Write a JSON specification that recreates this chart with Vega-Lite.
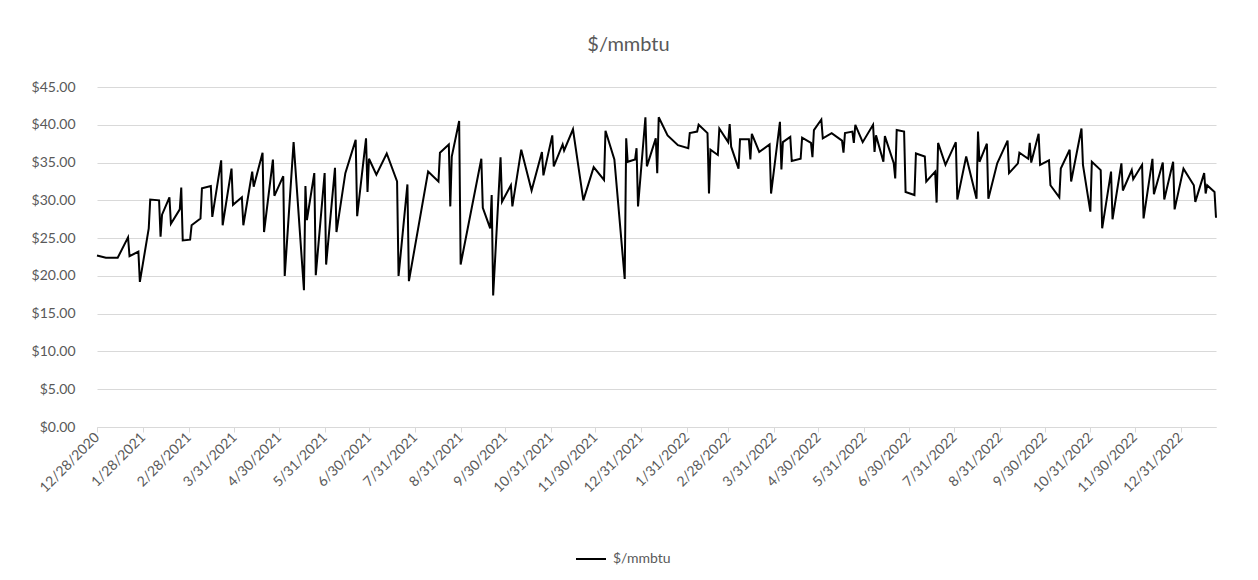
{
  "$schema": "https://vega.github.io/schema/vega-lite/v6.json",
  "autosize": {"type": "none"},
  "padding": {"left": 97, "top": 87, "right": 42, "bottom": 153},
  "width": 1119,
  "height": 340,
  "background": "white",
  "config": {"view": {"stroke": null}, "font": "Lato"},
  "title": {"text": "$/mmbtu", "fontSize": 20, "font": "Lato", "fontWeight": "normal", "color": "#595959", "anchor": "middle", "dx": -28, "offset": 25},
  "data": {"values": [
    {"date": "2020-12-28", "price": 22.7}, {"date": "2021-01-03", "price": 22.4}, {"date": "2021-01-11", "price": 22.4},
    {"date": "2021-01-18", "price": 25.1}, {"date": "2021-01-19", "price": 22.6}, {"date": "2021-01-25", "price": 23.2},
    {"date": "2021-01-26", "price": 19.2}, {"date": "2021-02-01", "price": 26.3}, {"date": "2021-02-02", "price": 30.1},
    {"date": "2021-02-08", "price": 30.0}, {"date": "2021-02-09", "price": 25.2}, {"date": "2021-02-10", "price": 28.1},
    {"date": "2021-02-15", "price": 30.4}, {"date": "2021-02-16", "price": 26.9}, {"date": "2021-02-22", "price": 28.8},
    {"date": "2021-02-23", "price": 31.7}, {"date": "2021-02-24", "price": 24.7}, {"date": "2021-03-01", "price": 24.8},
    {"date": "2021-03-02", "price": 26.7}, {"date": "2021-03-08", "price": 27.6}, {"date": "2021-03-09", "price": 31.6},
    {"date": "2021-03-15", "price": 31.9}, {"date": "2021-03-16", "price": 27.8}, {"date": "2021-03-22", "price": 35.3},
    {"date": "2021-03-23", "price": 26.7}, {"date": "2021-03-29", "price": 34.2}, {"date": "2021-03-30", "price": 29.4},
    {"date": "2021-04-05", "price": 30.4}, {"date": "2021-04-06", "price": 26.7}, {"date": "2021-04-12", "price": 33.8},
    {"date": "2021-04-13", "price": 31.8}, {"date": "2021-04-19", "price": 36.3}, {"date": "2021-04-20", "price": 25.8},
    {"date": "2021-04-26", "price": 35.4}, {"date": "2021-04-27", "price": 30.6}, {"date": "2021-05-03", "price": 33.2},
    {"date": "2021-05-04", "price": 20.0}, {"date": "2021-05-10", "price": 37.7}, {"date": "2021-05-17", "price": 18.1},
    {"date": "2021-05-18", "price": 31.9}, {"date": "2021-05-19", "price": 27.4}, {"date": "2021-05-24", "price": 33.6},
    {"date": "2021-05-25", "price": 20.1}, {"date": "2021-05-31", "price": 33.6}, {"date": "2021-06-01", "price": 21.5},
    {"date": "2021-06-07", "price": 34.3}, {"date": "2021-06-08", "price": 25.8}, {"date": "2021-06-14", "price": 33.6},
    {"date": "2021-06-21", "price": 38.0}, {"date": "2021-06-22", "price": 27.9}, {"date": "2021-06-28", "price": 38.2},
    {"date": "2021-06-29", "price": 31.1}, {"date": "2021-06-30", "price": 35.5}, {"date": "2021-07-05", "price": 33.4},
    {"date": "2021-07-12", "price": 36.2}, {"date": "2021-07-19", "price": 32.5}, {"date": "2021-07-20", "price": 20.0},
    {"date": "2021-07-26", "price": 32.1}, {"date": "2021-07-27", "price": 19.3}, {"date": "2021-08-09", "price": 33.8},
    {"date": "2021-08-16", "price": 32.5}, {"date": "2021-08-17", "price": 36.3}, {"date": "2021-08-23", "price": 37.4},
    {"date": "2021-08-24", "price": 29.2}, {"date": "2021-08-25", "price": 35.8}, {"date": "2021-08-30", "price": 40.5},
    {"date": "2021-08-31", "price": 21.5}, {"date": "2021-09-14", "price": 35.5}, {"date": "2021-09-15", "price": 29.0},
    {"date": "2021-09-20", "price": 26.3}, {"date": "2021-09-21", "price": 30.7}, {"date": "2021-09-22", "price": 17.4},
    {"date": "2021-09-27", "price": 35.7}, {"date": "2021-09-28", "price": 29.8}, {"date": "2021-10-04", "price": 32.0},
    {"date": "2021-10-05", "price": 29.2}, {"date": "2021-10-11", "price": 36.7}, {"date": "2021-10-18", "price": 31.3},
    {"date": "2021-10-25", "price": 36.4}, {"date": "2021-10-26", "price": 33.3}, {"date": "2021-11-01", "price": 38.6},
    {"date": "2021-11-02", "price": 34.5}, {"date": "2021-11-08", "price": 37.4}, {"date": "2021-11-09", "price": 36.6},
    {"date": "2021-11-15", "price": 39.4}, {"date": "2021-11-22", "price": 30.0}, {"date": "2021-11-29", "price": 34.4},
    {"date": "2021-12-06", "price": 32.7}, {"date": "2021-12-07", "price": 39.2}, {"date": "2021-12-13", "price": 35.4},
    {"date": "2021-12-20", "price": 19.6}, {"date": "2021-12-21", "price": 38.2}, {"date": "2021-12-22", "price": 35.1},
    {"date": "2021-12-27", "price": 35.4}, {"date": "2021-12-28", "price": 36.9}, {"date": "2021-12-29", "price": 29.2},
    {"date": "2022-01-03", "price": 41.0}, {"date": "2022-01-04", "price": 34.5}, {"date": "2022-01-10", "price": 38.2},
    {"date": "2022-01-11", "price": 33.6}, {"date": "2022-01-12", "price": 41.0}, {"date": "2022-01-18", "price": 38.6},
    {"date": "2022-01-25", "price": 37.3}, {"date": "2022-02-01", "price": 36.9}, {"date": "2022-02-02", "price": 38.9},
    {"date": "2022-02-07", "price": 39.1}, {"date": "2022-02-08", "price": 40.0}, {"date": "2022-02-14", "price": 38.9},
    {"date": "2022-02-15", "price": 30.9}, {"date": "2022-02-16", "price": 36.7}, {"date": "2022-02-21", "price": 36.0},
    {"date": "2022-02-22", "price": 39.5}, {"date": "2022-02-28", "price": 37.7}, {"date": "2022-03-01", "price": 40.1},
    {"date": "2022-03-02", "price": 37.1}, {"date": "2022-03-07", "price": 34.2}, {"date": "2022-03-08", "price": 38.1},
    {"date": "2022-03-14", "price": 38.1}, {"date": "2022-03-15", "price": 35.4}, {"date": "2022-03-16", "price": 38.8},
    {"date": "2022-03-21", "price": 36.4}, {"date": "2022-03-28", "price": 37.4}, {"date": "2022-03-29", "price": 30.9},
    {"date": "2022-04-04", "price": 40.4}, {"date": "2022-04-05", "price": 34.1}, {"date": "2022-04-06", "price": 37.7},
    {"date": "2022-04-11", "price": 38.4}, {"date": "2022-04-12", "price": 35.2}, {"date": "2022-04-18", "price": 35.5},
    {"date": "2022-04-19", "price": 38.3}, {"date": "2022-04-25", "price": 37.6}, {"date": "2022-04-26", "price": 35.7},
    {"date": "2022-04-27", "price": 39.3}, {"date": "2022-05-02", "price": 40.7}, {"date": "2022-05-03", "price": 38.2},
    {"date": "2022-05-09", "price": 38.9}, {"date": "2022-05-16", "price": 37.9}, {"date": "2022-05-17", "price": 36.3},
    {"date": "2022-05-18", "price": 38.9}, {"date": "2022-05-23", "price": 39.1}, {"date": "2022-05-24", "price": 37.6},
    {"date": "2022-05-25", "price": 40.0}, {"date": "2022-05-30", "price": 37.7}, {"date": "2022-06-06", "price": 40.0},
    {"date": "2022-06-07", "price": 36.4}, {"date": "2022-06-08", "price": 38.6}, {"date": "2022-06-13", "price": 35.1},
    {"date": "2022-06-14", "price": 38.5}, {"date": "2022-06-20", "price": 34.9}, {"date": "2022-06-21", "price": 32.9},
    {"date": "2022-06-22", "price": 39.3}, {"date": "2022-06-27", "price": 39.1}, {"date": "2022-06-28", "price": 31.1},
    {"date": "2022-07-04", "price": 30.7}, {"date": "2022-07-05", "price": 36.2}, {"date": "2022-07-11", "price": 35.8},
    {"date": "2022-07-12", "price": 32.5}, {"date": "2022-07-18", "price": 33.8}, {"date": "2022-07-19", "price": 29.7},
    {"date": "2022-07-20", "price": 37.6}, {"date": "2022-07-25", "price": 34.7}, {"date": "2022-08-01", "price": 37.7},
    {"date": "2022-08-02", "price": 30.1}, {"date": "2022-08-08", "price": 35.8}, {"date": "2022-08-15", "price": 30.2},
    {"date": "2022-08-16", "price": 39.1}, {"date": "2022-08-17", "price": 35.1}, {"date": "2022-08-22", "price": 37.5},
    {"date": "2022-08-23", "price": 30.2}, {"date": "2022-08-29", "price": 34.9}, {"date": "2022-09-05", "price": 37.9},
    {"date": "2022-09-06", "price": 33.6}, {"date": "2022-09-12", "price": 34.9}, {"date": "2022-09-13", "price": 36.3},
    {"date": "2022-09-19", "price": 35.5}, {"date": "2022-09-20", "price": 37.6}, {"date": "2022-09-21", "price": 35.0},
    {"date": "2022-09-26", "price": 38.8}, {"date": "2022-09-27", "price": 34.7}, {"date": "2022-10-03", "price": 35.3},
    {"date": "2022-10-04", "price": 32.0}, {"date": "2022-10-10", "price": 30.4}, {"date": "2022-10-11", "price": 34.2},
    {"date": "2022-10-17", "price": 36.7}, {"date": "2022-10-18", "price": 32.5}, {"date": "2022-10-25", "price": 39.5},
    {"date": "2022-10-26", "price": 34.7}, {"date": "2022-10-31", "price": 28.5}, {"date": "2022-11-01", "price": 35.1},
    {"date": "2022-11-07", "price": 34.0}, {"date": "2022-11-08", "price": 26.3}, {"date": "2022-11-14", "price": 33.8},
    {"date": "2022-11-15", "price": 27.5}, {"date": "2022-11-21", "price": 34.9}, {"date": "2022-11-22", "price": 31.3},
    {"date": "2022-11-28", "price": 34.0}, {"date": "2022-11-29", "price": 32.8}, {"date": "2022-12-05", "price": 34.7},
    {"date": "2022-12-06", "price": 27.6}, {"date": "2022-12-12", "price": 35.5}, {"date": "2022-12-13", "price": 30.8},
    {"date": "2022-12-19", "price": 35.0}, {"date": "2022-12-20", "price": 30.1}, {"date": "2022-12-26", "price": 35.1},
    {"date": "2022-12-27", "price": 28.8}, {"date": "2023-01-02", "price": 34.2}, {"date": "2023-01-09", "price": 32.0},
    {"date": "2023-01-10", "price": 29.8}, {"date": "2023-01-16", "price": 33.6}, {"date": "2023-01-17", "price": 30.9},
    {"date": "2023-01-18", "price": 32.0}, {"date": "2023-01-23", "price": 31.1}, {"date": "2023-01-24", "price": 27.7}
  ]},
  "mark": {"type": "line", "strokeWidth": 2, "clip": false},
  "encoding": {
    "x": {
      "field": "date", "type": "temporal", "title": null,
      "scale": {"type": "utc", "domain": [{"year": 2020, "month": 12, "date": 28, "utc": true}, {"year": 2023, "month": 1, "date": 24, "utc": true}], "nice": false},
      "axis": {
        "values": [
          {"year": 2020, "month": 12, "date": 28, "utc": true},
          {"year": 2021, "month": 1, "date": 28, "utc": true},
          {"year": 2021, "month": 2, "date": 28, "utc": true},
          {"year": 2021, "month": 3, "date": 31, "utc": true},
          {"year": 2021, "month": 4, "date": 30, "utc": true},
          {"year": 2021, "month": 5, "date": 31, "utc": true},
          {"year": 2021, "month": 6, "date": 30, "utc": true},
          {"year": 2021, "month": 7, "date": 31, "utc": true},
          {"year": 2021, "month": 8, "date": 31, "utc": true},
          {"year": 2021, "month": 9, "date": 30, "utc": true},
          {"year": 2021, "month": 10, "date": 31, "utc": true},
          {"year": 2021, "month": 11, "date": 30, "utc": true},
          {"year": 2021, "month": 12, "date": 31, "utc": true},
          {"year": 2022, "month": 1, "date": 31, "utc": true},
          {"year": 2022, "month": 2, "date": 28, "utc": true},
          {"year": 2022, "month": 3, "date": 31, "utc": true},
          {"year": 2022, "month": 4, "date": 30, "utc": true},
          {"year": 2022, "month": 5, "date": 31, "utc": true},
          {"year": 2022, "month": 6, "date": 30, "utc": true},
          {"year": 2022, "month": 7, "date": 31, "utc": true},
          {"year": 2022, "month": 8, "date": 31, "utc": true},
          {"year": 2022, "month": 9, "date": 30, "utc": true},
          {"year": 2022, "month": 10, "date": 31, "utc": true},
          {"year": 2022, "month": 11, "date": 30, "utc": true},
          {"year": 2022, "month": 12, "date": 31, "utc": true}
        ],
        "labelExpr": "utcFormat(datum.value, '%-m/%-d/%Y')",
        "labelAngle": -45, "labelAlign": "right", "labelBaseline": "middle",
        "labelFont": "Lato", "labelFontSize": 14, "labelColor": "#595959", "labelPadding": 3,
        "labelOverlap": false, "labelBound": false, "labelFlush": false,
        "grid": false, "domainColor": "#d9d9d9", "domainWidth": 1,
        "tickColor": "#d9d9d9", "tickSize": 5
      }
    },
    "y": {
      "field": "price", "type": "quantitative", "title": null,
      "scale": {"domain": [0, 45], "nice": false},
      "axis": {
        "values": [0, 5, 10, 15, 20, 25, 30, 35, 40, 45],
        "format": "$,.2f", "labelFont": "Lato", "labelFontSize": 14, "labelColor": "#595959",
        "labelPadding": 22, "ticks": false, "domain": false,
        "grid": true, "gridColor": "#d9d9d9", "gridWidth": 1
      }
    },
    "color": {
      "datum": "$/mmbtu", "type": "nominal",
      "scale": {"range": ["#000000"]},
      "legend": {
        "title": null, "orient": "none", "legendX": 478, "legendY": 456,
        "symbolType": "stroke", "symbolSize": 900, "symbolStrokeWidth": 2,
        "labelFont": "Lato", "labelFontSize": 14, "labelColor": "#595959", "labelOffset": 6
      }
    }
  }
}
